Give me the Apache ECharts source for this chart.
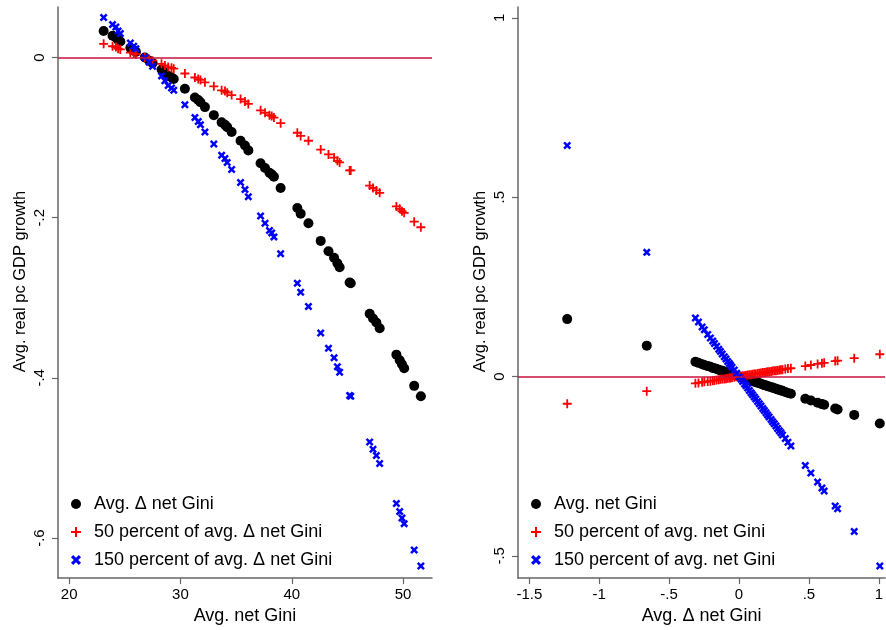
<!DOCTYPE html>
<html>
<head>
<meta charset="utf-8">
<script src="https://cdn.jsdelivr.net/npm/echarts@6/dist/echarts.min.js"></script>
<style>
  html, body { margin: 0; padding: 0; background: #fff; }
  #chart { width: 886px; height: 630px; }
</style>
</head>
<body>
<div id="chart"></div>
<script>
// left panel: avg. net Gini on x
var leftGini = [23.1, 23.9, 24.2, 24.4, 24.6, 25.5, 25.8, 26.0, 26.8, 27.2, 27.5, 28.3, 28.6, 28.9, 29.2, 29.4,
    30.4, 31.3, 31.6, 31.8, 32.2, 33.0, 33.7, 34.0, 34.2, 34.6, 35.4, 35.8, 36.1, 37.2, 37.6, 38.0, 38.2, 38.4,
    39.0, 40.5, 40.8, 41.5, 42.6, 43.3, 43.8, 44.1, 44.3, 45.2, 45.3, 47.0, 47.3, 47.6, 47.9, 49.4, 49.7, 49.9,
    50.1, 51.0, 51.6];
var leftAvg = [0.033, 0.027, 0.025, 0.022, 0.020, 0.012, 0.009, 0.007, 0.000, -0.004, -0.007, -0.015, -0.019, -0.023, -0.025, -0.027,
    -0.039, -0.050, -0.053, -0.056, -0.062, -0.072, -0.081, -0.084, -0.087, -0.093, -0.104, -0.110, -0.116, -0.132, -0.138, -0.144, -0.146, -0.149,
    -0.163, -0.188, -0.195, -0.207, -0.229, -0.242, -0.250, -0.257, -0.262, -0.281, -0.282, -0.320, -0.326, -0.331, -0.338, -0.371, -0.378, -0.383,
    -0.388, -0.410, -0.423];
var leftHalf = [0.017, 0.014, 0.013, 0.011, 0.010, 0.006, 0.005, 0.004, 0.000, -0.002, -0.004, -0.008, -0.010, -0.012, -0.013, -0.014,
    -0.020, -0.025, -0.027, -0.028, -0.031, -0.036, -0.041, -0.042, -0.044, -0.047, -0.052, -0.055, -0.058, -0.066, -0.069, -0.072, -0.073, -0.075,
    -0.082, -0.094, -0.098, -0.104, -0.115, -0.121, -0.125, -0.129, -0.131, -0.141, -0.141, -0.160, -0.163, -0.166, -0.169, -0.186, -0.189, -0.192,
    -0.194, -0.205, -0.212];
var leftOneHalf = [0.050, 0.041, 0.038, 0.033, 0.030, 0.018, 0.014, 0.011, 0.000, -0.006, -0.011, -0.023, -0.029, -0.035, -0.038, -0.041,
    -0.059, -0.075, -0.080, -0.084, -0.093, -0.108, -0.122, -0.126, -0.131, -0.140, -0.156, -0.165, -0.174, -0.198, -0.207, -0.216, -0.219, -0.224,
    -0.245, -0.282, -0.293, -0.311, -0.344, -0.363, -0.375, -0.386, -0.393, -0.422, -0.423, -0.480, -0.489, -0.497, -0.507, -0.557, -0.567, -0.575,
    -0.582, -0.615, -0.635];

// right panel: avg. change in net Gini on x
var rightDGini = [-1.229, -0.660, -0.312, -0.290, -0.264, -0.248, -0.224, -0.205, -0.188, -0.176, -0.160, -0.145, -0.133, -0.120, -0.105,
    -0.093, -0.081, -0.069, -0.060, -0.050, -0.034, -0.017, 0.002, 0.015, 0.026, 0.040, 0.050, 0.062, 0.074, 0.086, 0.097, 0.109, 0.120,
    0.133, 0.145, 0.157, 0.170, 0.181, 0.193, 0.204, 0.215, 0.229, 0.240, 0.252, 0.264, 0.276, 0.288, 0.300, 0.311, 0.331, 0.350, 0.371,
    0.474, 0.514, 0.562, 0.593, 0.609, 0.688, 0.705, 0.824, 1.007];
var rightAvg = [0.160, 0.086, 0.041, 0.038, 0.034, 0.032, 0.029, 0.027, 0.024, 0.023, 0.021, 0.019, 0.017, 0.016, 0.014,
    0.012, 0.011, 0.009, 0.008, 0.007, 0.004, 0.002, 0.000, -0.002, -0.003, -0.005, -0.007, -0.008, -0.010, -0.011, -0.013, -0.014, -0.016,
    -0.017, -0.019, -0.020, -0.022, -0.024, -0.025, -0.027, -0.028, -0.030, -0.031, -0.033, -0.034, -0.036, -0.037, -0.039, -0.040, -0.043, -0.046, -0.048,
    -0.062, -0.067, -0.073, -0.077, -0.079, -0.089, -0.092, -0.107, -0.131];
var rightHalf = [-0.076, -0.041, -0.019, -0.018, -0.016, -0.015, -0.014, -0.013, -0.012, -0.011, -0.010, -0.009, -0.008, -0.007, -0.007,
    -0.006, -0.005, -0.004, -0.004, -0.003, -0.002, -0.001, 0.000, 0.001, 0.002, 0.002, 0.003, 0.004, 0.005, 0.005, 0.006, 0.007, 0.007,
    0.008, 0.009, 0.010, 0.011, 0.011, 0.012, 0.013, 0.013, 0.014, 0.015, 0.016, 0.016, 0.017, 0.018, 0.019, 0.019, 0.021, 0.022, 0.023,
    0.029, 0.032, 0.035, 0.037, 0.038, 0.043, 0.044, 0.051, 0.062];
var rightOneHalf = [0.644, 0.346, 0.163, 0.152, 0.138, 0.130, 0.117, 0.107, 0.099, 0.092, 0.084, 0.076, 0.070, 0.063, 0.055,
    0.049, 0.042, 0.036, 0.031, 0.026, 0.018, 0.009, -0.001, -0.008, -0.014, -0.021, -0.026, -0.032, -0.039, -0.045, -0.051, -0.057, -0.063,
    -0.070, -0.076, -0.082, -0.089, -0.095, -0.101, -0.107, -0.113, -0.120, -0.126, -0.132, -0.138, -0.145, -0.151, -0.157, -0.163, -0.173, -0.183, -0.194,
    -0.248, -0.269, -0.294, -0.311, -0.319, -0.361, -0.369, -0.432, -0.528];

var leftXTicks = [20, 30, 40, 50];
var leftYTicks = [-0.6, -0.4, -0.2, 0];
var rightXTicks = [-1.5, -1, -0.5, 0, 0.5, 1];
var rightYTicks = [-0.5, 0, 0.5, 1];

var leftNames = ['Avg. \u0394 net Gini', '50 percent of avg. \u0394 net Gini', '150 percent of avg. \u0394 net Gini'];
var rightNames = ['Avg. net Gini', '50 percent of avg. net Gini', '150 percent of avg. net Gini'];

var FONT = '"Liberation Sans", Arial, sans-serif';
var PLUS = 'path://M4,0H6V4H10V6H6V10H4V6H0V4H4Z';
var CROSS = 'path://M0,2.2L2.2,0L5,2.8L7.8,0L10,2.2L7.2,5L10,7.8L7.8,10L5,7.2L2.2,10L0,7.8L2.8,5Z';
var AXIS_COLOR = '#666666';

function pairs(xs, ys) {
    return xs.map(function (x, i) { return [x, ys[i]]; });
}

// stata style: -.2 , .5
function stataNum(v) {
    return String(v).replace(/^(-?)0\./, '$1.');
}

function xAxisOf(idx, lo, hi, ticks, name) {
    return {
        type: 'value', gridIndex: idx, min: lo, max: hi,
        name: name, nameLocation: 'middle', nameGap: 27,
        nameTextStyle: { fontFamily: FONT, fontSize: 18, color: '#000' },
        axisLine: { show: true, onZero: false, lineStyle: { color: AXIS_COLOR, width: 1.5 } },
        axisTick: { show: true, length: 6, customValues: ticks, lineStyle: { color: AXIS_COLOR, width: 1.2 } },
        axisLabel: { customValues: ticks, formatter: stataNum, fontFamily: FONT, fontSize: 15, color: '#000', margin: 9 },
        splitLine: { show: false }
    };
}

function yAxisOf(idx, lo, hi, ticks) {
    return {
        type: 'value', gridIndex: idx, min: lo, max: hi,
        name: 'Avg. real pc GDP growth', nameLocation: 'middle', nameGap: 29, nameRotate: 90,
        nameTextStyle: { fontFamily: FONT, fontSize: 16.5, color: '#000', padding: [0, 0, 0, 22] },
        axisLine: { show: true, onZero: false, lineStyle: { color: AXIS_COLOR, width: 1.5 } },
        axisTick: { show: true, length: 6, customValues: ticks, lineStyle: { color: AXIS_COLOR, width: 1.2 } },
        axisLabel: { customValues: ticks, formatter: stataNum, rotate: 90, fontFamily: FONT, fontSize: 15, color: '#000', margin: 11 },
        splitLine: { show: false }
    };
}

function zeroLine(idx) {
    return {
        type: 'scatter', xAxisIndex: idx, yAxisIndex: idx, data: [], z: 1, silent: true,
        markLine: {
            silent: true, symbol: ['none', 'none'], label: { show: false },
            lineStyle: { color: '#c8103c', width: 1.5, type: 'solid' },
            data: [{ yAxis: 0 }]
        }
    };
}

function dots(idx, name, data, sym, size, color) {
    return {
        type: 'scatter', name: name, xAxisIndex: idx, yAxisIndex: idx,
        data: data, symbol: sym, symbolSize: size,
        itemStyle: { color: color, opacity: 1 }
    };
}

function legendOf(left, names) {
    return {
        orient: 'vertical', left: left, top: 495, padding: 0, itemGap: 10,
        itemWidth: 26, itemHeight: 10,
        textStyle: { fontFamily: FONT, fontSize: 18, color: '#000', lineHeight: 18 },
        data: names
    };
}

var myChart = echarts.init(document.getElementById('chart'));

var option = {
    animation: false,
    backgroundColor: '#fff',
    grid: [
        { left: 58, top: 7, width: 374, height: 575 },
        { left: 518, top: 7, width: 368, height: 575 }
    ],
    xAxis: [
        xAxisOf(0, 19.0, 52.6, leftXTicks, 'Avg. net Gini'),
        xAxisOf(1, -1.581, 1.045, rightXTicks, 'Avg. \u0394 net Gini')
    ],
    yAxis: [
        yAxisOf(0, -0.65, 0.063, leftYTicks),
        yAxisOf(1, -0.562, 1.03, rightYTicks)
    ],
    legend: [legendOf(71, leftNames), legendOf(531, rightNames)],
    series: [
        zeroLine(0),
        zeroLine(1),
        dots(0, leftNames[0], pairs(leftGini, leftAvg), 'circle', 10, '#000'),
        dots(0, leftNames[1], pairs(leftGini, leftHalf), PLUS, 9, '#ff0000'),
        dots(0, leftNames[2], pairs(leftGini, leftOneHalf), CROSS, 8, '#0000ff'),
        dots(1, rightNames[0], pairs(rightDGini, rightAvg), 'circle', 10, '#000'),
        dots(1, rightNames[1], pairs(rightDGini, rightHalf), PLUS, 9, '#ff0000'),
        dots(1, rightNames[2], pairs(rightDGini, rightOneHalf), CROSS, 8, '#0000ff')
    ]
};

myChart.setOption(option);
</script>
</body>
</html>
